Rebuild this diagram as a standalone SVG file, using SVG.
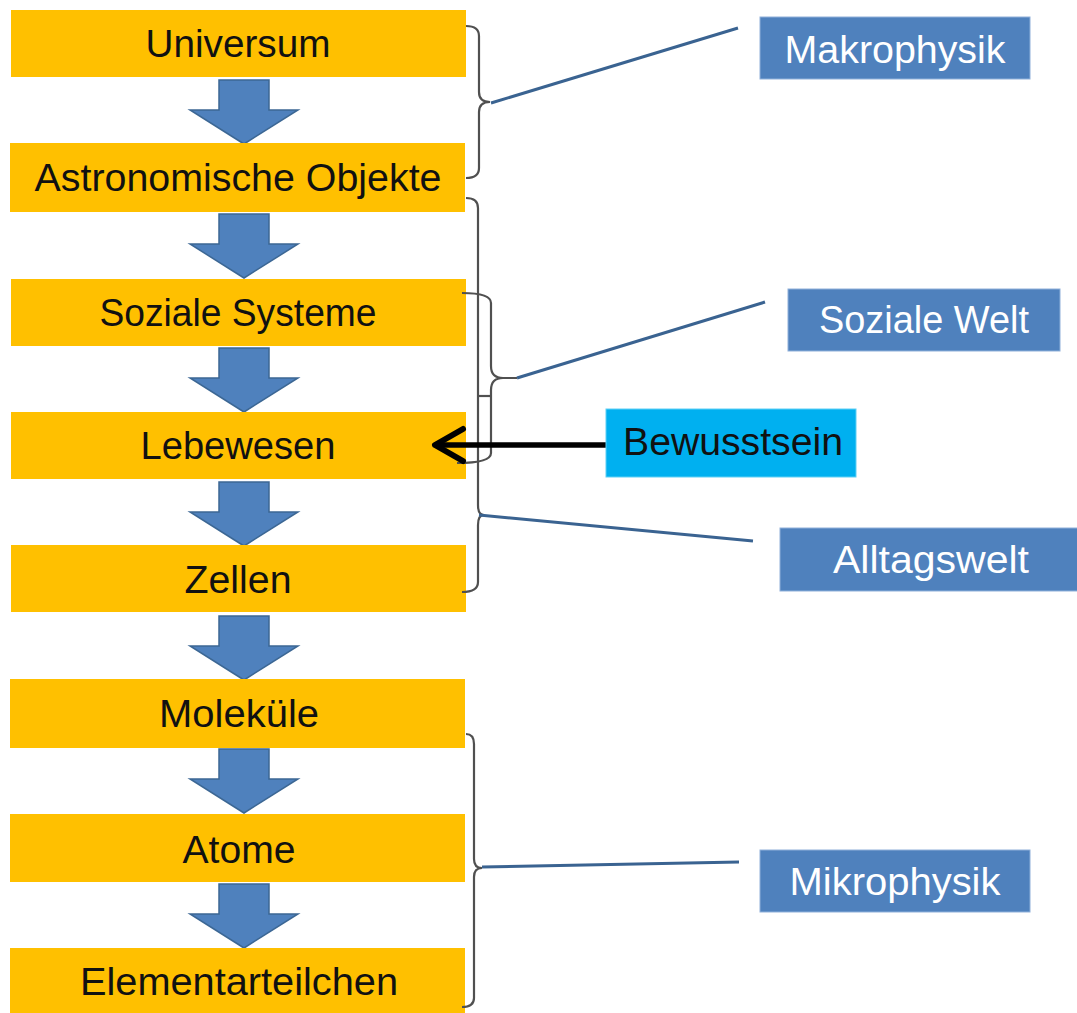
<svg xmlns="http://www.w3.org/2000/svg" width="1077" height="1013" viewBox="0 0 1077 1013">
<style>
.lvl{fill:#FFC000}
.lt{font-family:"Liberation Sans",Arial,sans-serif;font-size:38px;fill:#111;text-anchor:middle}
.wt{font-family:"Liberation Sans",Arial,sans-serif;font-size:38px;fill:#fff;text-anchor:middle}
.lab{fill:#4F81BD;stroke:#8FB0DA;stroke-width:1}
.down{fill:#4F81BD;stroke:#3C6794;stroke-width:1.5}
.br{fill:none;stroke:#505050;stroke-width:2.2}
.bl{fill:none;stroke:#3A6391;stroke-width:3}
</style>
<rect width="1077" height="1013" fill="#fff"/>
<defs>
<polygon id="arr" class="down" points="219,0 269,0 269,30 298,30 244,64 190,30 219,30"/>
</defs>
<g id="flow-arrows">
<use href="#arr" y="80"/>
<use href="#arr" y="214"/>
<use href="#arr" y="348"/>
<use href="#arr" y="482"/>
<use href="#arr" y="616"/>
<use href="#arr" y="749"/>
<use href="#arr" y="884"/>
</g>
<g id="universum"><rect class="lvl" x="11" y="10" width="455" height="67"/><text class="lt" x="238" y="57" textLength="185" lengthAdjust="spacingAndGlyphs">Universum</text></g>
<g id="astronomische"><rect class="lvl" x="10" y="143" width="455" height="69"/><text class="lt" x="238" y="191" textLength="407" lengthAdjust="spacingAndGlyphs">Astronomische Objekte</text></g>
<g id="soziale-systeme"><rect class="lvl" x="11" y="279" width="455" height="67"/><text class="lt" x="238" y="326" textLength="277" lengthAdjust="spacingAndGlyphs">Soziale Systeme</text></g>
<g id="lebewesen"><rect class="lvl" x="11" y="412" width="455" height="67"/><text class="lt" x="238" y="459" textLength="195" lengthAdjust="spacingAndGlyphs">Lebewesen</text></g>
<g id="zellen"><rect class="lvl" x="11" y="545" width="455" height="67"/><text class="lt" x="238" y="593" textLength="107" lengthAdjust="spacingAndGlyphs">Zellen</text></g>
<g id="molekuele"><rect class="lvl" x="10" y="679" width="455" height="69"/><text class="lt" x="239" y="727" textLength="160" lengthAdjust="spacingAndGlyphs">Moleküle</text></g>
<g id="atome"><rect class="lvl" x="10" y="814" width="455" height="68"/><text class="lt" x="239" y="863" textLength="113" lengthAdjust="spacingAndGlyphs">Atome</text></g>
<g id="elementarteilchen"><rect class="lvl" x="10" y="948" width="455" height="65"/><text class="lt" x="239" y="995" textLength="318" lengthAdjust="spacingAndGlyphs">Elementarteilchen</text></g>

<g id="connectors">
<path class="br" d="M466,26 Q479,26 479,36 V92 Q479,102 490,102 Q479,102 479,112 V168 Q479,178 466,178"/>
<path class="br" d="M466,198 Q478,198 478,208 V505 Q478,515 484,515 Q478,515 478,525 V582 Q478,592 462,592"/>
<path class="br" d="M462,293 Q491,293 491,303 V366 Q491,378 503,378 H517 M503,378 Q491,378 491,390 V453 Q491,463 457,463"/>
<path class="br" d="M478,396 H491"/>
<path class="br" d="M466,734 Q474,734 474,744 V859 Q474,868 482,868 Q474,868 474,877 V998 Q474,1007 462,1007"/>
<line class="bl" x1="491" y1="103" x2="738" y2="28"/>
<line class="bl" x1="517" y1="378" x2="765" y2="302"/>
<line class="bl" x1="479" y1="515" x2="753" y2="541"/>
<line class="bl" x1="482" y1="867" x2="739" y2="862"/>
<line x1="606" y1="445" x2="440" y2="445" stroke="#000" stroke-width="5.5"/>
<polyline points="463,429 435,445 463,461" fill="none" stroke="#000" stroke-width="6" stroke-linecap="round" stroke-linejoin="round"/>
</g>

<g id="makrophysik"><rect class="lab" x="760" y="17" width="270" height="62"/><text class="wt" x="895" y="63" textLength="221" lengthAdjust="spacingAndGlyphs">Makrophysik</text></g>
<g id="soziale-welt"><rect class="lab" x="788" y="289" width="272" height="62"/><text class="wt" x="924" y="333" textLength="210" lengthAdjust="spacingAndGlyphs">Soziale Welt</text></g>
<g id="bewusstsein"><rect x="606" y="409" width="250" height="68" fill="#00B0F0" stroke="#5fd0f5" stroke-width="1"/><text class="lt" x="733" y="455" textLength="220" lengthAdjust="spacingAndGlyphs">Bewusstsein</text></g>
<g id="alltagswelt"><rect class="lab" x="780" y="528" width="300" height="63"/><text class="wt" x="931" y="573" textLength="196" lengthAdjust="spacingAndGlyphs">Alltagswelt</text></g>
<g id="mikrophysik"><rect class="lab" x="760" y="850" width="270" height="62"/><text class="wt" x="895" y="895" textLength="211" lengthAdjust="spacingAndGlyphs">Mikrophysik</text></g>
</svg>
